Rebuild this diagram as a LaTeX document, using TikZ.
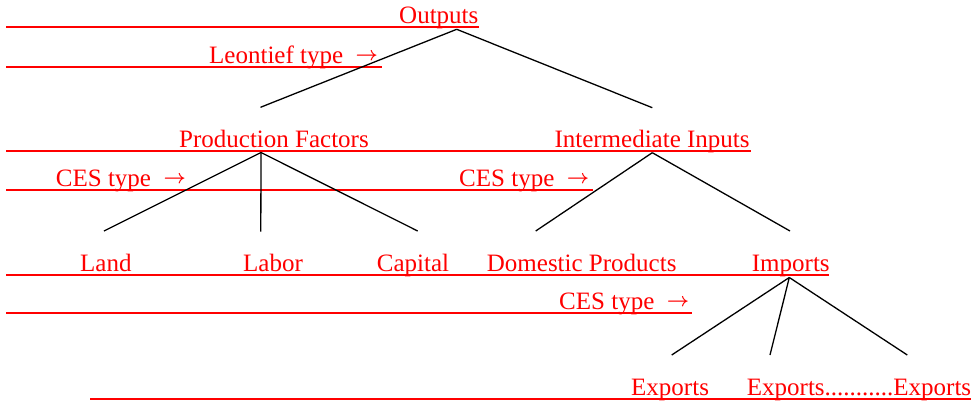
\documentclass[tikz,border=0pt]{standalone}
\usepackage{graphicx}
\usepackage{fontspec}
\setmainfont{Liberation Serif}
\newcommand{\myarr}{\hspace{12.5pt}\raisebox{3.2pt}{\scalebox{0.78}{\boldmath$\rightarrow$}}}
\begin{document}
\begin{tikzpicture}[x=1pt,y=-1pt,
  lbl/.style={text=red, inner sep=0pt, anchor=base west, font=\fontsize{25}{30}\selectfont},
  uline/.style={draw=red, line width=2pt},
  branch/.style={draw=black, line width=1.3pt}]
\useasboundingbox (0,0) rectangle (974,405);
% texts
\node[lbl] (outputs) at (399,23) {Outputs};
\node[lbl] (leontief) at (209,63.8) {Leontief type\myarr};
\node[lbl] (prodf) at (179,147.5) {Production Factors};
\node[lbl] (interm) at (554.3,147.5) {Intermediate Inputs};
\node[lbl] (ces1) at (55.7,186.2) {CES type\myarr};
\node[lbl] (ces2) at (459,186.2) {CES type\myarr};
\node[lbl] (land) at (80,271.2) {Land};
\node[lbl] (labor) at (243,271.2) {Labor};
\node[lbl] (capital) at (376.7,271.2) {Capital};
\node[lbl] (domestic) at (486.7,271.2) {Domestic Products};
\node[lbl] (imports) at (751.7,271.2) {Imports};
\node[lbl] (ces3) at (559,309.8) {CES type\myarr};
\node[lbl] (exp1) at (631,395) {Exports};
\node[lbl] (exp2) at (746.7,395) {Exports...........Exports};
% underlines
\draw[uline] (6,26.5) -- (479,26.5);
\draw[uline] (6,67.3) -- (381.7,67.3);
\draw[uline] (6,151) -- (751,151);
\draw[uline] (6,189.7) -- (592.7,189.7);
\draw[uline] (6,274.7) -- (829.3,274.7);
\draw[uline] (6,313.3) -- (692.3,313.3);
\draw[uline] (90,398.5) -- (970.7,398.5);
% branch points
\coordinate (j-out) at (456.7,29.3);
\coordinate (t-prodf) at (260.5,107.3);
\coordinate (t-interm) at (652.3,107.7);
\coordinate (j-prodf) at (261,152.5);
\coordinate (t-land) at (104,231);
\coordinate (t-labor) at (260.8,231.5);
\coordinate (t-capital) at (417.7,231);
\coordinate (j-interm) at (652.3,152.7);
\coordinate (t-domestic) at (535.7,231);
\coordinate (t-imports) at (790,231);
\coordinate (j-imports) at (789.3,277.5);
\coordinate (t-exp1) at (671.7,355);
\coordinate (t-exp2) at (770,355);
\coordinate (t-exp3) at (907.3,355);
% connectors
\draw[branch] (j-out) -- (t-prodf);
\draw[branch] (j-out) -- (t-interm);
\draw[branch] (j-prodf) -- (t-land);
\draw[branch] (j-prodf) -- (t-labor);
\draw[branch] (j-prodf) -- (t-capital);
\draw[branch] (j-interm) -- (t-domestic);
\draw[branch] (j-interm) -- (t-imports);
\draw[branch] (j-imports) -- (t-exp1);
\draw[branch] (j-imports) -- (t-exp2);
\draw[branch] (j-imports) -- (t-exp3);
\end{tikzpicture}
\end{document}
